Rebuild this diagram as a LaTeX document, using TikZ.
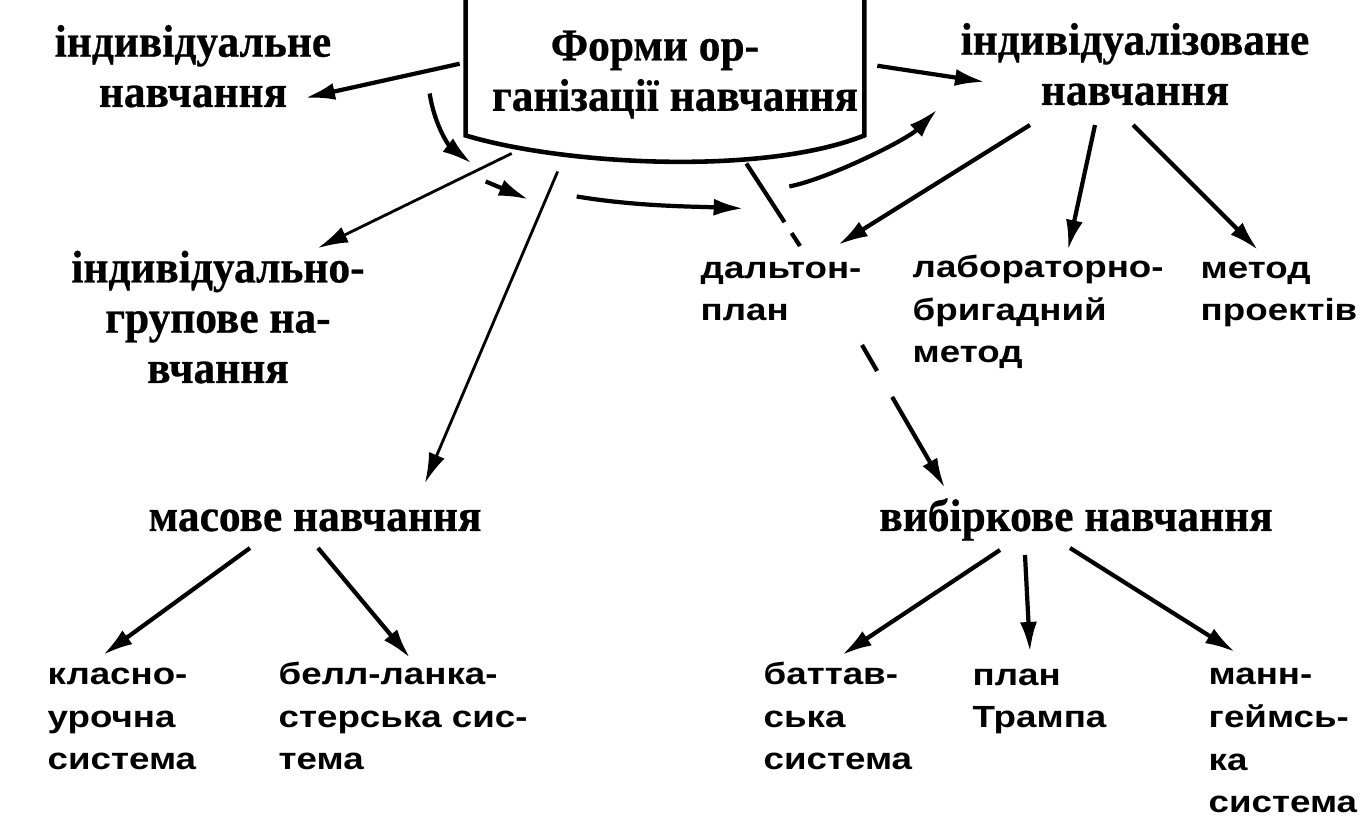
\documentclass[tikz,border=0pt]{standalone}
\usepackage{fontspec}
\setmainfont{Liberation Serif}
\setsansfont{Liberation Sans}
\newfontfamily\condserif{Liberation Serif}[FakeStretch=0.95, FakeBold=0.6]
\newfontfamily\widesans{Liberation Sans}[FakeStretch=1.2]
\usepackage{tikz}
\usetikzlibrary{arrows.meta}

\begin{document}
\begin{tikzpicture}[x=0.01cm, y=-0.01cm,
    ttl/.style={inner sep=0pt, align=center, anchor=base, font=\condserif\bfseries\fontsize{13}{14.3}\selectfont},
    lbl/.style={inner sep=0pt, align=left, anchor=base west, font=\widesans\bfseries\fontsize{8.7}{12.15}\selectfont},
    arr/.style={line width=1.2pt, -{Latex[length=0.3cm,width=0.17cm]}},
    ln/.style={line width=1.2pt}]
    \useasboundingbox (0,0) rectangle (1360,816);

    \node[ttl] (ind) at (193,107) {індивідуальне\\навчання};
    \node[ttl, anchor=north, minimum width=3.97cm, text height=1.1cm, text depth=0.24cm] (frm) at (665,0) {Форми ор-\hspace*{0.2cm}\\\hspace*{0.2cm}ганізації навчання};
    \node[ttl] (izv) at (1135,105) {індивідуалізоване\\навчання};
    \node[ttl] (igr) at (218,383) {індивідуально-\\групове на-\\вчання};
    \node[ttl] (mas) at (315,531) {масове навчання};
    \node[ttl] (vyb) at (1076,531) {вибіркове навчання};

    \node[lbl] (dal) at (700,321) {дальтон-\\план};
    \node[lbl] (lab) at (912,363) {лабораторно-\\бригадний\\метод};
    \node[lbl] (prj) at (1200,321) {метод\\проектів};
    \node[lbl] (kls) at (47,770) {класно-\\урочна\\система};
    \node[lbl] (bel) at (278,770) {белл-ланка-\\стерська сис-\\тема};
    \node[lbl] (bat) at (763,770) {баттав-\\ська\\система};
    \node[lbl] (trm) at (972,728) {план\\Трампа};
    \node[lbl] (man) at (1208,813) {манн-\\геймсь-\\ка\\система};

    \draw[line width=1.3pt] (frm.north west) -- (frm.south west) .. controls +(100,30) and +(-100,40) .. (frm.south east) -- (frm.north east);

    \draw[arr] ([shift={(-6,-4)}]frm.west) -- ([shift={(112,-9)}]ind.base);
    \draw[arr] ([shift={(-36,-42)}]frm.south west) .. controls +(5,33) and +(-22,-17) .. ([shift={(6,28)}]frm.south west);
    \draw[arr] ([shift={(20,46)}]frm.south west) -- ([shift={(63,64)}]frm.south west);
    \draw[arr] ([shift={(111,61)}]frm.south west) .. controls +(60,10) and +(-50,-2) .. ([shift={(278,73)}]frm.south west);
    \draw[arr] ([shift={(-75,51)}]frm.south east) .. controls +(40,-8) and +(-30,30) .. ([shift={(73,-26)}]frm.south east);
    \draw[arr] ([shift={(13,-2)}]frm.east) -- ([shift={(-150,-23)}]izv.base);
    \draw[arr, line width=0.8pt] ([shift={(92,36)}]frm.south west) -- ([shift={(110,-48)}]mas.base);
    \draw[arr, line width=0.8pt] ([shift={(46,18)}]frm.south west) -- ([shift={(100,-135)}]igr.base);
    \draw[ln, dash pattern=on 0.7cm off 0.13cm on 0.2cm] ([shift={(-118,28)}]frm.south east) -- ([shift={(100,-75)}]dal.base west);
    \draw[arr, dash pattern=on 0.3cm off 0.3cm on 2cm] ([shift={(162,24)}]dal.base west) -- ([shift={(-131,-43)}]vyb.base);

    \draw[arr] ([shift={(-105,20)}]izv.base) -- ([shift={(138,-76)}]dal.base west);
    \draw[arr] ([shift={(-40,20)}]izv.base) -- ([shift={(156,-113)}]lab.base west);
    \draw[arr] ([shift={(-2,20)}]izv.base) -- ([shift={(58,-71)}]prj.base west);
    \draw[arr] ([shift={(-65,17)}]mas.base) -- ([shift={(56,-115)}]kls.base west);
    \draw[arr] ([shift={(3,17)}]mas.base) -- ([shift={(132,-112)}]bel.base west);
    \draw[arr] ([shift={(-76,19)}]vyb.base) -- ([shift={(79,-115)}]bat.base west);
    \draw[arr] ([shift={(-51,24)}]vyb.base) -- ([shift={(58,-76)}]trm.base west);
    \draw[arr] ([shift={(-6,17)}]vyb.base) -- ([shift={(27,-161)}]man.base west);
\end{tikzpicture}
\end{document}
